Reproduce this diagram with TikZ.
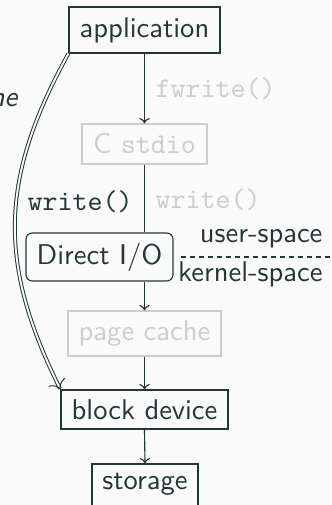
\documentclass[tikz,border=0pt]{standalone}
\usepackage{fontspec}
\usetikzlibrary{arrows.meta}
\definecolor{dk}{HTML}{23373B}
\definecolor{lt}{HTML}{CDCDCD}
\definecolor{bg}{HTML}{FAFAFA}
\begin{document}
\begin{tikzpicture}[x=0.35pt,y=-0.35pt,font=\sffamily,
  box/.style={draw=dk,text=dk,line width=0.4pt,inner sep=0pt,rectangle},
  faded/.style={draw=lt,text=lt,line width=0.4pt,inner sep=0pt,rectangle},
  arr/.style={draw=dk,line width=0.4pt,-{To[length=1.9pt,width=3.6pt]}},
  lbl/.style={anchor=base west,inner sep=0pt}]
\fill[bg] (0,0) rectangle (331,505);
\useasboundingbox (0,0) rectangle (331,505);
\begin{scope}
\clip (0,0) rectangle (331,505);
\node[box,minimum width=52.85pt,minimum height=16.1pt] (app) at (144.5,30) {application};
\node[faded,minimum width=43.75pt,minimum height=14pt] (stdio) at (144.5,144) {C \texttt{stdio}};
\node[box,rounded corners=2.2pt,minimum width=51.45pt,minimum height=16.8pt] (direct) at (99.5,257) {Direct I/O};
\node[faded,minimum width=53.55pt,minimum height=15.75pt] (cache) at (144.5,333.5) {page cache};
\node[box,minimum width=58.45pt,minimum height=13.65pt] (block) at (144.5,409.5) {block device};
\node[box,minimum width=37.1pt,minimum height=15.4pt,text depth=3.3pt] (storage) at (145,486) {storage};

\draw[arr] (app.south) -- (stdio.north);
\draw[dk,line width=0.4pt] (stdio.south) -- (stdio.south |- direct.north);
\draw[arr] (stdio.south |- direct.south) -- (cache.north);
\draw[arr] (cache.south) -- (block.north);
\draw[arr] (block.south) -- (storage.north);

\draw[dk,line width=0.35pt,double=bg,double distance=0.65pt,-{To[length=3pt,width=6.5pt]}]
  (app.south west) .. controls (0,178) and (-3,262) .. (block.north west);

\node[lbl,text=lt,font=\ttfamily] (fw) at (155,97.5) {fwrite()};
\node[lbl,text=dk,font=\ttfamily] (wd) at (27,211) {write()};
\node[lbl,text=lt,font=\ttfamily] (wl) at (155,209) {write()};
\node[anchor=base east,inner sep=0pt,text=dk,font=\sffamily\itshape] (ne) at (18,107) {ne};

\coordinate (sepend) at (331,257);
\draw[dk,line width=0.4pt,dash pattern=on 1.75pt off 1.4pt] ([xshift=2.5pt]direct.east) -- (sepend);
\node[anchor=base east,inner sep=0pt,text=dk] (us) at (323,242.5) {user-space};
\node[anchor=base east,inner sep=0pt,text=dk] (ks) at (323,282) {kernel-space};
\end{scope}
\end{tikzpicture}
\end{document}
